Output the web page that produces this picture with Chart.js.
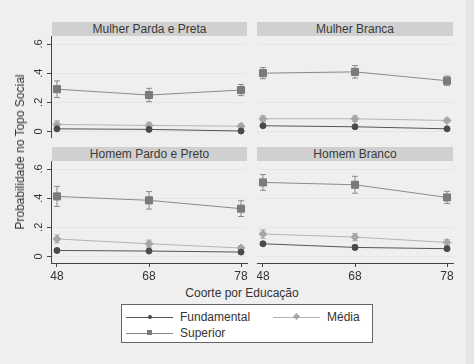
<!DOCTYPE html>
<html>
<head>
<meta charset="utf-8">
<script src="https://cdn.jsdelivr.net/npm/chart.js"></script>
<style>
  body { margin: 0; background: #e6e6e6; }
  #wrap { position: relative; width: 466px; height: 364px; background: #efefef; overflow: hidden;
          font-family: "Liberation Sans", Arial, sans-serif; color: #333; }
  .strip { position: absolute; height: 14px; line-height: 14px; background: #d0d0d0;
           text-align: center; font-size: 12px; color: #3a3a3a; }
  .plot { position: absolute; }
  #ytitle { position: absolute; left: 20px; top: 152px; font-size: 12px; white-space: nowrap;
            transform: translate(-50%, -50%) rotate(-90deg); }
  #xtitle { position: absolute; left: 242px; top: 293px; font-size: 12px; white-space: nowrap;
            transform: translate(-50%, -50%); }
  #legend { position: absolute; left: 121px; top: 304px; width: 250px; height: 37px; background: #fff;
            border: 1px solid #666; font-size: 12px; }
  .item { position: absolute; height: 14px; }
  .item .ln { position: absolute; left: 0; top: 7px; width: 47px; height: 1px; }
  .item .mk { position: absolute; }
  .item span { position: absolute; left: 54px; top: 0; line-height: 14px; white-space: nowrap; }
</style>
</head>
<body>
<div id="wrap">
  <div class="strip" style="left:52px;top:22px;width:195px;">Mulher Parda e Preta</div>
  <div class="strip" style="left:257px;top:22px;width:196px;">Mulher Branca</div>
  <div class="strip" style="left:52px;top:147px;width:195px;">Homem Pardo e Preto</div>
  <div class="strip" style="left:257px;top:147px;width:196px;">Homem Branco</div>

  <canvas id="c1" class="plot" style="left:25px;top:36px;" width="228" height="102"></canvas>
  <canvas id="c2" class="plot" style="left:257px;top:36px;" width="202" height="102"></canvas>
  <canvas id="c3" class="plot" style="left:25px;top:161px;" width="228" height="124"></canvas>
  <canvas id="c4" class="plot" style="left:257px;top:161px;" width="202" height="124"></canvas>

  <div id="ytitle">Probabilidade no Topo Social</div>
  <div id="xtitle">Coorte por Educação</div>

  <div id="legend">
    <div class="item" style="left:4px;top:5px;">
      <div class="ln" style="background:#555;"></div>
      <div class="mk" style="left:22px;top:5px;width:4px;height:4px;border-radius:2px;background:#4a4a4a;"></div>
      <span>Fundamental</span>
    </div>
    <div class="item" style="left:151px;top:5px;">
      <div class="ln" style="background:#b3b3b3;"></div>
      <div class="mk" style="left:21px;top:4px;width:5px;height:5px;transform:rotate(45deg);background:#a6a6a6;"></div>
      <span style="left:54px;">Média</span>
    </div>
    <div class="item" style="left:4px;top:21px;">
      <div class="ln" style="background:#8a8a8a;"></div>
      <div class="mk" style="left:21px;top:4px;width:5px;height:5px;background:#7a7a7a;"></div>
      <span>Superior</span>
    </div>
  </div>
</div>

<script>
// categories and ticks
const cohorts = ["48", "68", "78"];
const yTicks = [0, 0.2, 0.4, 0.6];
const yTickLabels = ["0", ".2", ".4", ".6"];

// Mulher Parda e Preta
const mpFund = [0.018, 0.014, 0.003];
const mpFundErr = [0.01, 0.01, 0.005];
const mpMedia = [0.048, 0.041, 0.036];
const mpMediaErr = [0.025, 0.02, 0.015];
const mpSup = [0.29, 0.25, 0.284];
const mpSupErr = [0.057, 0.046, 0.038];

// Mulher Branca
const mbFund = [0.039, 0.032, 0.018];
const mbFundErr = [0.01, 0.01, 0.006];
const mbMedia = [0.087, 0.087, 0.075];
const mbMediaErr = [0.02, 0.02, 0.012];
const mbSup = [0.4, 0.409, 0.348];
const mbSupErr = [0.038, 0.043, 0.032];

// Homem Pardo e Preto
const hpFund = [0.041, 0.037, 0.03];
const hpFundErr = [0.01, 0.01, 0.008];
const hpMedia = [0.12, 0.087, 0.058];
const hpMediaErr = [0.028, 0.025, 0.015];
const hpSup = [0.412, 0.385, 0.328];
const hpSupErr = [0.069, 0.06, 0.054];

// Homem Branco
const hbFund = [0.087, 0.062, 0.053];
const hbFundErr = [0.012, 0.015, 0.012];
const hbMedia = [0.154, 0.133, 0.096];
const hbMediaErr = [0.03, 0.025, 0.02];
const hbSup = [0.508, 0.492, 0.405];
const hbSupErr = [0.054, 0.058, 0.042];

const FONT = "'Liberation Sans', Arial, sans-serif";

// error bars drawn through the y scale
const errorBars = {
  id: "errorBars",
  beforeDatasetsDraw(chart) {
    const ctx = chart.ctx;
    const ys = chart.scales.y;
    chart.data.datasets.forEach((ds, di) => {
      const meta = chart.getDatasetMeta(di);
      ctx.save();
      ctx.strokeStyle = ds.borderColor;
      ctx.lineWidth = 1;
      ds.data.forEach((p, i) => {
        const x = meta.data[i].x;
        const top = ys.getPixelForValue(p.y + ds.errors[i]);
        const bot = ys.getPixelForValue(p.y - ds.errors[i]);
        ctx.beginPath();
        ctx.moveTo(x, top); ctx.lineTo(x, bot);
        ctx.moveTo(x - 3, top); ctx.lineTo(x + 3, top);
        ctx.moveTo(x - 3, bot); ctx.lineTo(x + 3, bot);
        ctx.stroke();
      });
      ctx.restore();
    });
  }
};

// rotated y tick labels (Stata style)
const yLabels = {
  id: "yLabels",
  afterDraw(chart, args, opts) {
    if (!opts.show) return;
    const ctx = chart.ctx;
    const ys = chart.scales.y;
    ctx.save();
    ctx.fillStyle = "#333";
    ctx.font = "11px " + FONT;
    ctx.textAlign = "center";
    ctx.textBaseline = "middle";
    yTicks.forEach((v, i) => {
      ctx.save();
      ctx.translate(chart.chartArea.left - 12, ys.getPixelForValue(v));
      ctx.rotate(-Math.PI / 2);
      ctx.fillText(yTickLabels[i], 0, 0);
      ctx.restore();
    });
    ctx.restore();
  }
};

function pts(arr) {
  return arr.map((v, i) => ({ x: i, y: v }));
}

function series(label, vals, errs, color, lineColor, style, r) {
  return {
    label: label,
    data: pts(vals),
    errors: errs,
    borderColor: lineColor,
    backgroundColor: color,
    pointBackgroundColor: color,
    pointBorderColor: color,
    pointStyle: style,
    pointRadius: r,
    borderWidth: 1,
    tension: 0,
    clip: false
  };
}

function makePanel(id, fund, fundErr, media, mediaErr, sup, supErr, leftAxis, bottomAxis) {
  new Chart(document.getElementById(id), {
    type: "line",
    data: {
      datasets: [
        series("Fundamental", fund, fundErr, "#4a4a4a", "#555", "circle", 3),
        series("Média", media, mediaErr, "#a6a6a6", "#b3b3b3", "rectRot", 4),
        series("Superior", sup, supErr, "#7a7a7a", "#8a8a8a", "rect", 5)
      ]
    },
    options: {
      responsive: false,
      animation: false,
      events: [],
      layout: { padding: { left: 0, top: 0, bottom: 0, right: 6 }, autoPadding: false },
      plugins: {
        legend: { display: false },
        tooltip: { enabled: false },
        yLabels: { show: leftAxis }
      },
      scales: {
        x: {
          type: "linear",
          display: bottomAxis,
          min: -0.065,
          max: 2.065,
          afterBuildTicks: (s) => { s.ticks = cohorts.map((c, i) => ({ value: i })); },
          afterFit: (s) => {
            s.height = bottomAxis ? 22 : 0;
            s.paddingLeft = 0;
            s.paddingRight = 0;
          },
          grid: { drawOnChartArea: false, drawTicks: true, tickLength: 4, tickColor: "#444" },
          border: { color: "#444", width: 1 },
          ticks: {
            color: "#333",
            padding: 2,
            maxRotation: 0,
            font: { family: FONT, size: 12 },
            callback: (v) => cohorts[v]
          }
        },
        y: {
          type: "linear",
          min: -0.045,
          max: 0.655,
          afterBuildTicks: (s) => { s.ticks = yTicks.map((v) => ({ value: v })); },
          afterFit: (s) => { s.width = leftAxis ? 26 : 0; },
          grid: {
            color: "#e6e6e6",
            drawTicks: leftAxis,
            tickLength: 4,
            tickColor: "#444"
          },
          border: { display: leftAxis, color: "#444", width: 1 },
          ticks: { display: false }
        }
      }
    },
    plugins: [errorBars, yLabels]
  });
}

makePanel("c1", mpFund, mpFundErr, mpMedia, mpMediaErr, mpSup, mpSupErr, true, false);
makePanel("c2", mbFund, mbFundErr, mbMedia, mbMediaErr, mbSup, mbSupErr, false, false);
makePanel("c3", hpFund, hpFundErr, hpMedia, hpMediaErr, hpSup, hpSupErr, true, true);
makePanel("c4", hbFund, hbFundErr, hbMedia, hbMediaErr, hbSup, hbSupErr, false, true);
</script>
</body>
</html>
